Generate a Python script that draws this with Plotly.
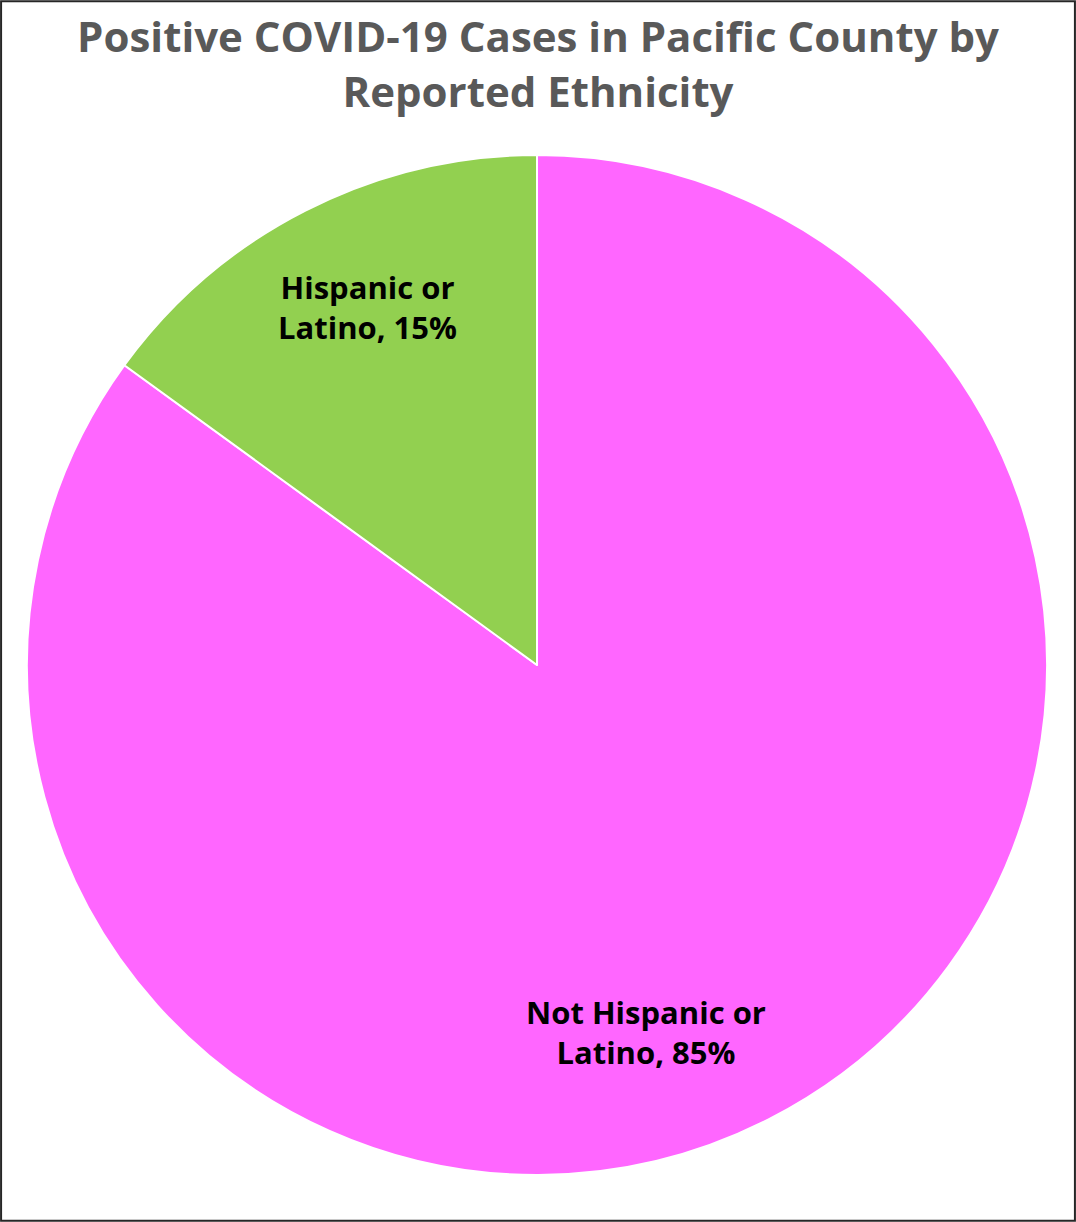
import plotly.graph_objects as go

# Share of positive cases by reported ethnicity (percent)
categories = ["Not Hispanic or<br>Latino", "Hispanic or<br>Latino"]
shares = [85, 15]
slice_colors = ["#FF66FF", "#92D050"]

# Where each data label sits (paper coordinates)
label_pos = {
    "Not Hispanic or<br>Latino": (0.600, 0.1555),
    "Hispanic or<br>Latino": (0.342, 0.749),
}

W, H = 1076, 1222
total = sum(shares)

fig = go.Figure(
    go.Pie(
        labels=categories,
        values=shares,
        sort=False,
        direction="clockwise",
        rotation=0,
        marker=dict(colors=slice_colors, line=dict(color="white", width=2)),
        textinfo="none",
        hoverinfo="label+percent",
        showlegend=False,
        domain=dict(x=[27 / W, 1047 / W], y=[47 / H, 1067 / H]),
    )
)

annotations = []
for cat, val in zip(categories, shares):
    px, py = label_pos[cat]
    annotations.append(
        dict(
            text=f"{cat}, {round(100 * val / total)}%",
            x=px,
            y=py,
            xref="paper",
            yref="paper",
            xanchor="center",
            yanchor="middle",
            showarrow=False,
            align="center",
            font=dict(family="Open Sans", size=31, color="black", weight="bold"),
        )
    )

fig.update_layout(
    width=W,
    height=H,
    margin=dict(l=0, r=0, t=0, b=0),
    paper_bgcolor="white",
    plot_bgcolor="white",
    annotations=annotations,
    title=dict(
        text="Positive COVID-19 Cases in Pacific County by<br>Reported Ethnicity",
        x=0.5,
        xanchor="center",
        y=1 - 52 / H,
        yanchor="middle",
        yref="container",
        font=dict(family="Open Sans", size=42, color="#595959", weight="bold"),
    ),
    shapes=[
        dict(
            type="rect",
            xref="paper",
            yref="paper",
            x0=0.001,
            y0=0.001,
            x1=0.999,
            y1=0.999,
            line=dict(color="#262626", width=2),
        )
    ],
)

fig.write_html("out.html")
